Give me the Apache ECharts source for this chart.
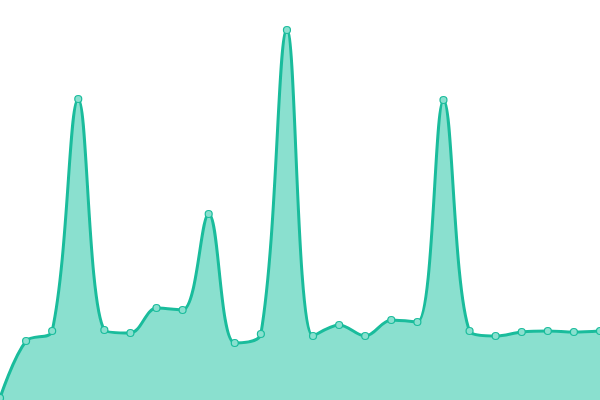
<!DOCTYPE html>
<html>
<head>
<meta charset="utf-8">
<script src="https://cdn.jsdelivr.net/npm/echarts@6/dist/echarts.min.js"></script>
<style>
  html, body { margin: 0; padding: 0; background: #fff; }
  #main { width: 600px; height: 400px; }
</style>
</head>
<body>
<div id="main"></div>
<script>
// x positions (24 samples, no labels shown)
var categories = [];
for (var i = 0; i < 24; i++) categories.push(String(i));

// values
var values = [2, 59, 69, 301, 70, 67, 92, 90, 186, 57, 66, 370,
              64, 75, 64, 80, 78, 300, 69, 64, 68, 69, 68, 69];

var myChart = echarts.init(document.getElementById('main'));
var option = {
    animation: false,
    grid: { left: 0, right: 0, top: 0, bottom: 0 },
    xAxis: {
        type: 'category',
        data: categories,
        boundaryGap: false,
        show: false
    },
    yAxis: {
        type: 'value',
        min: 0,
        max: 400,
        show: false
    },
    series: [{
        type: 'line',
        data: values,
        smooth: 0.35,
        symbol: 'circle',
        symbolSize: 7,
        lineStyle: { color: '#1abc9c', width: 3 },
        itemStyle: { color: '#8ae0cf', borderColor: '#1abc9c', borderWidth: 1.2 },
        areaStyle: { color: '#8ae0cf', opacity: 1 }
    }]
};
myChart.setOption(option);
</script>
</body>
</html>
